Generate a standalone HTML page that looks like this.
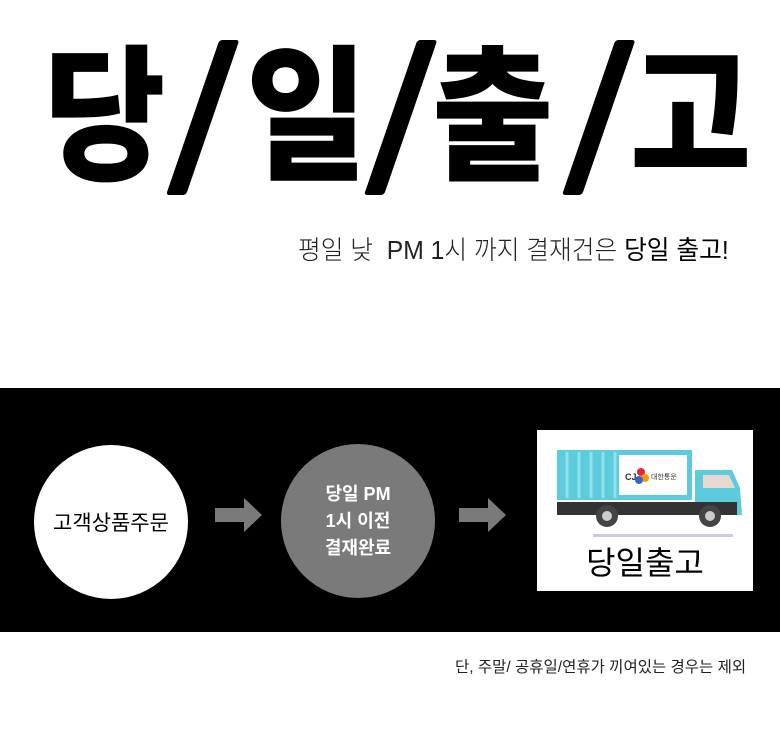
<!DOCTYPE html>
<html><head><meta charset="utf-8"><style>
body{margin:0;width:780px;height:732px;background:#fff;position:relative;overflow:hidden;font-family:"Liberation Sans","Noto Sans CJK KR",sans-serif}
.g{position:absolute;top:45px;font-size:120px;font-weight:900;line-height:1;transform-origin:0 0;transform:scale(1.1,1.22);color:#000}
.sl{position:absolute;top:40px;width:20px;height:155px;background:#000;transform:skewX(-19deg);transform-origin:0 100%;border-radius:3px}
.a{position:absolute}
</style></head><body>
<div class="g" style="left:44px">당</div>
<div class="sl" style="left:166px"></div>
<div class="g" style="left:246px">일</div>
<div class="sl" style="left:364px"></div>
<div class="g" style="left:432px">출</div>
<div class="sl" style="left:562px"></div>
<div class="g" style="left:630px">고</div>
<div class="a" style="left:298px;top:230px;font-size:26px;color:#222;transform:scaleX(0.95);transform-origin:0 0;white-space:nowrap;font-weight:300">평일 낮&nbsp; PM 1시 까지 결재건은 <b style="color:#000">당일 출고!</b></div>
<div class="a" style="left:0;top:388px;width:780px;height:244px;background:#000"></div>
<div class="a" style="left:34px;top:445px;width:154px;height:154px;border-radius:50%;background:#fff;display:flex;align-items:center;justify-content:center;font-size:21px;color:#000">고객상품주문</div>
<div class="a" style="left:281px;top:444px;width:154px;height:154px;border-radius:50%;background:#7a7a7a;display:flex;align-items:center;justify-content:center;text-align:center;font-size:18px;font-weight:bold;color:#fff;line-height:27px">당일 PM<br>1시 이전<br>결재완료</div>
<svg class="a" style="left:0;top:0" width="780" height="732">
<polygon points="215,508 244,508 244,498 262,515 244,532 244,522 215,522" fill="#7a7a7a"/>
<polygon points="459,508 488,508 488,498 506,515 488,532 488,522 459,522" fill="#7a7a7a"/>
</svg>
<div class="a" style="left:537px;top:430px;width:216px;height:161px;background:#fff"></div>
<svg class="a" style="left:537px;top:430px" width="216" height="161">
<rect x="20" y="20" width="135" height="50" fill="#5ccbdc"/>
<g stroke="#8fe0ea" stroke-width="3">
<line x1="30" y1="22" x2="30" y2="68"/><line x1="42" y1="22" x2="42" y2="68"/><line x1="54" y1="22" x2="54" y2="68"/><line x1="66" y1="22" x2="66" y2="68"/><line x1="78" y1="22" x2="78" y2="68"/></g>
<rect x="82" y="25" width="68" height="40" fill="#fff"/>
<text x="88" y="50" font-size="9" font-weight="bold" fill="#333">CJ</text>
<circle cx="104" cy="42" r="4" fill="#e23"/><circle cx="108" cy="48" r="4" fill="#f90"/><circle cx="102" cy="50" r="4" fill="#36c"/>
<text x="114" y="49" font-size="7" fill="#333">대한통운</text>
<path d="M158 40 L195 40 L203 58 L205 85 L158 85 Z" fill="#5ccbdc"/>
<path d="M166 45 L192 45 L198 58 L166 58 Z" fill="#e8d8d0"/>
<rect x="20" y="72" width="180" height="13" fill="#333"/>
<circle cx="70" cy="86" r="11" fill="#444"/><circle cx="70" cy="86" r="5" fill="#ccc"/>
<circle cx="173" cy="86" r="11" fill="#444"/><circle cx="173" cy="86" r="5" fill="#ccc"/>
<rect x="56" y="104" width="140" height="3" fill="#ccd"/>
</svg>
<div class="a" style="left:537px;top:538px;width:216px;text-align:center;font-size:32px;color:#000">당일출고</div>
<div class="a" style="left:455px;top:655px;font-size:15.5px;color:#222;white-space:nowrap">단, 주말/ 공휴일/연휴가 끼여있는 경우는 제외</div>
</body></html>
